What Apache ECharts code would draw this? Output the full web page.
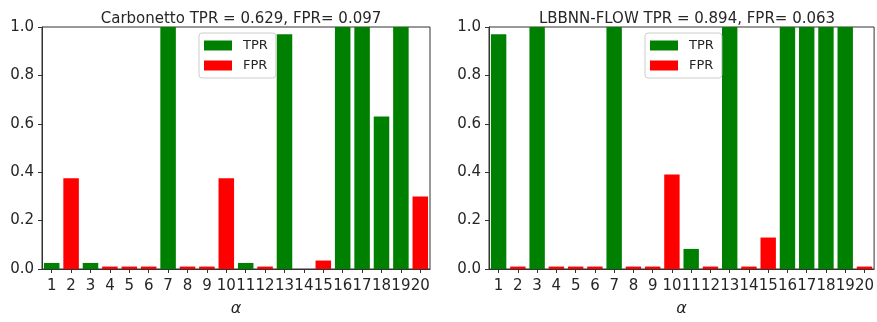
<!DOCTYPE html>
<html>
<head>
<meta charset="utf-8">
<script src="https://cdn.jsdelivr.net/npm/echarts@6/dist/echarts.min.js"></script>
<style>html,body{margin:0;padding:0;background:#fff;overflow:hidden;}#c{width:877px;height:322px;}</style>
</head>
<body>
<div id="c"></div>
<script>
const categories = ['1','2','3','4','5','6','7','8','9','10','11','12','13','14','15','16','17','18','19','20'];
const yTicks = [0, 0.2, 0.4, 0.6, 0.8, 1.0];
const titleLeft = 'Carbonetto TPR = 0.629, FPR= 0.097';
const titleRight = 'LBBNN-FLOW TPR = 0.894, FPR= 0.063';
const carbTPR = [0.025, null, 0.025, null, null, null, 1.0, null, null, null, 0.025, null, 0.97, null, null, 1.0, 1.0, 0.63, 1.0, null];
const carbFPR = [null, 0.375, null, 0.01, 0.01, 0.01, null, 0.01, 0.01, 0.375, null, 0.01, null, 0, 0.035, null, null, null, null, 0.30];
const flowTPR = [0.97, null, 1.0, null, null, null, 1.0, null, null, null, 0.083, null, 1.0, null, null, 1.0, 1.0, 1.0, 1.0, null];
const flowFPR = [null, 0.01, null, 0.01, 0.01, 0.01, null, 0.01, 0.01, 0.39, null, 0.01, null, 0.01, 0.13, null, null, null, null, 0.01];

const GREEN = '#008000', RED = '#ff0000', TXT = '#262626', AX = '#333';
const FONT = 'DejaVu Sans';

function xAxis(gi) {
  return {
    type: 'category', gridIndex: gi, data: categories, boundaryGap: true,
    axisLine: { show: true, lineStyle: { color: AX, width: 1 } },
    axisTick: { show: true, alignWithLabel: true, length: 4, lineStyle: { color: AX } },
    axisLabel: { interval: 0, fontSize: 15, color: TXT, fontFamily: FONT, margin: 10 },
    name: 'α', nameLocation: 'middle', nameGap: 32,
    nameTextStyle: { fontSize: 16, fontStyle: 'italic', color: TXT, fontFamily: FONT }
  };
}
function yAxis(gi) {
  return {
    type: 'value', gridIndex: gi, min: 0, max: 1, interval: 0.2,
    axisLine: { show: true, lineStyle: { color: AX, width: 1 } },
    axisTick: { show: true, length: 4, lineStyle: { color: AX } },
    splitLine: { show: false },
    axisLabel: { fontSize: 15, color: TXT, fontFamily: FONT, margin: 8,
      formatter: v => yTicks.some(t => Math.abs(t - v) < 1e-9) ? v.toFixed(1) : '' }
  };
}
function legend(left) {
  return {
    left: left, top: 33, orient: 'vertical', itemWidth: 28, itemHeight: 10, itemGap: 7,
    padding: [6, 8, 6, 5], borderColor: '#cccccc', borderWidth: 1, borderRadius: 3,
    backgroundColor: 'rgba(255,255,255,0.8)',
    textStyle: { fontSize: 13, color: TXT, fontFamily: FONT, padding: [0, 0, 0, 6] },
    data: [{ name: 'TPR', icon: 'rect' }, { name: 'FPR', icon: 'rect' }],
    selectedMode: false
  };
}
function bars(name, data, color, gi) {
  return {
    type: 'bar', name: name, data: data, xAxisIndex: gi, yAxisIndex: gi,
    barGap: '-100%', barCategoryGap: '20%', itemStyle: { color: color },
    animation: false
  };
}

const chart = echarts.init(document.getElementById('c'), null, { renderer: 'canvas' });
chart.setOption({
  animation: false,
  backgroundColor: '#fff',
  title: [
    { text: titleLeft, left: 236, top: 7, textAlign: 'center',
      textStyle: { fontSize: 15, fontWeight: 'normal', color: TXT, fontFamily: FONT } },
    { text: titleRight, left: 682, top: 7, textAlign: 'center',
      textStyle: { fontSize: 15, fontWeight: 'normal', color: TXT, fontFamily: FONT } }
  ],
  legend: [legend(199), legend(645)],
  grid: [
    { left: 42, width: 388, top: 27, height: 252, show: true, borderColor: AX, borderWidth: 1, containLabel: false },
    { left: 489, width: 386, top: 27, height: 252, show: true, borderColor: AX, borderWidth: 1, containLabel: false }
  ],
  xAxis: [xAxis(0), xAxis(1)],
  yAxis: [yAxis(0), yAxis(1)],
  series: [
    bars('TPR', carbTPR, GREEN, 0),
    bars('FPR', carbFPR, RED, 0),
    bars('TPR', flowTPR, GREEN, 1),
    bars('FPR', flowFPR, RED, 1)
  ]
});
</script>
</body>
</html>
